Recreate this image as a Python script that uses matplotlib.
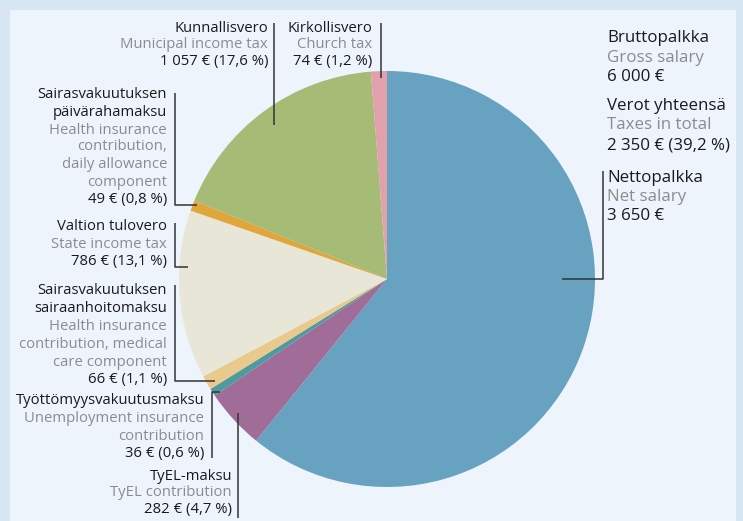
import matplotlib.pyplot as plt
from matplotlib.patches import Rectangle

plt.rcParams['font.family'] = ['Open Sans', 'DejaVu Sans']

# Monthly salary breakdown, euros (clockwise from the top)
parts_fi = ['Nettopalkka', 'TyEL-maksu', 'Työttömyysvakuutusmaksu',
            'Sairasvakuutuksen sairaanhoitomaksu', 'Valtion tulovero',
            'Sairasvakuutuksen päivärahamaksu', 'Kunnallisvero', 'Kirkollisvero']
amounts = [3650, 282, 36, 66, 786, 49, 1057, 74]
shares = [60.8, 4.7, 0.6, 1.1, 13.1, 0.8, 17.6, 1.2]
colors = ['#67a3c1', '#a06d99', '#4f9a9e', '#e9c98c', '#e8e6d7',
          '#e0a53b', '#a6bb75', '#e0a1ac']

gross = 6000
taxes_total = 2350
taxes_share = 39.2

BLACK = '#1a1a1a'
GREY = '#8c8c8c'
LINE = '#333333'


def eur(v):
    return f'{v:,}'.replace(',', ' ') + ' €'


def pct(v):
    return f'{v:.1f}'.replace('.', ',') + ' %'


W, H = 743, 521
fig = plt.figure(figsize=(W / 100, H / 100), dpi=100, facecolor='#d7e6f3')
ax = fig.add_axes([0, 0, 1, 1])
ax.add_patch(Rectangle((10, 10), 726, H, facecolor='#eef4fc', edgecolor='none', zorder=0))

ax.pie(amounts, colors=colors, center=(387, 279), radius=208,
       startangle=270, counterclock=True, frame=True,
       wedgeprops=dict(linewidth=0))
ax.set_xlim(0, W)
ax.set_ylim(H, 0)
ax.axis('off')


def block(x, ys, lines, ha='right', size=10.7):
    for y, (txt, col) in zip(ys, lines):
        ax.text(x, y, txt, ha=ha, va='center', color=col, fontsize=size)


def leader(pts):
    xs, ys = zip(*pts)
    ax.plot(xs, ys, color=LINE, lw=1.1, solid_capstyle='butt')


# Kunnallisvero
block(268, [28, 45, 62], [(parts_fi[6], BLACK), ('Municipal income tax', GREY),
                          (f'{eur(amounts[6])} ({pct(shares[6])})', BLACK)])
leader([(274, 23), (274, 125)])

# Kirkollisvero
block(372, [28, 45, 62], [(parts_fi[7], BLACK), ('Church tax', GREY),
                          (f'{eur(amounts[7])} ({pct(shares[7])})', BLACK)])
leader([(381, 23), (381, 78)])

# Päivärahamaksu
block(167, [95, 113, 130, 147, 165, 182, 199],
      [('Sairasvakuutuksen', BLACK), ('päivärahamaksu', BLACK),
       ('Health insurance', GREY), ('contribution,', GREY),
       ('daily allowance', GREY), ('component', GREY),
       (f'{eur(amounts[5])} ({pct(shares[5])})', BLACK)])
leader([(175, 93), (175, 205), (197, 205)])

# Valtion tulovero
block(167, [227, 245, 262], [(parts_fi[4], BLACK), ('State income tax', GREY),
                             (f'{eur(amounts[4])} ({pct(shares[4])})', BLACK)])
leader([(175, 223), (175, 267), (188, 267)])

# Sairaanhoitomaksu
block(167, [291, 309, 327, 344, 362, 379],
      [('Sairasvakuutuksen', BLACK), ('sairaanhoitomaksu', BLACK),
       ('Health insurance', GREY), ('contribution, medical', GREY),
       ('care component', GREY),
       (f'{eur(amounts[3])} ({pct(shares[3])})', BLACK)])
leader([(175, 285), (175, 381), (215, 381)])

# Työttömyysvakuutusmaksu
block(204, [401, 419, 436, 453],
      [(parts_fi[2], BLACK), ('Unemployment insurance', GREY),
       ('contribution', GREY),
       (f'{eur(amounts[2])} ({pct(shares[2])})', BLACK)])
leader([(220, 392), (212, 392), (212, 458)])

# TyEL
block(232, [476, 493, 510], [(parts_fi[1], BLACK), ('TyEL contribution', GREY),
                             (f'{eur(amounts[1])} ({pct(shares[1])})', BLACK)])
leader([(238, 413), (238, 518)])

# Totals on the right
block(607, [38, 58, 77], [('Bruttopalkka', BLACK), ('Gross salary', GREY),
                          (eur(gross), BLACK)], ha='left', size=12.2)
block(607, [106, 125, 145], [('Verot yhteensä', BLACK), ('Taxes in total', GREY),
                             (f'{eur(taxes_total)} ({pct(taxes_share)})', BLACK)],
      ha='left', size=12.2)
block(607, [178, 197, 216], [(parts_fi[0], BLACK), ('Net salary', GREY),
                             (eur(amounts[0]), BLACK)], ha='left', size=12.2)
leader([(603, 171), (603, 279), (562, 279)])

fig.savefig('out.png', dpi=100, facecolor=fig.get_facecolor())
